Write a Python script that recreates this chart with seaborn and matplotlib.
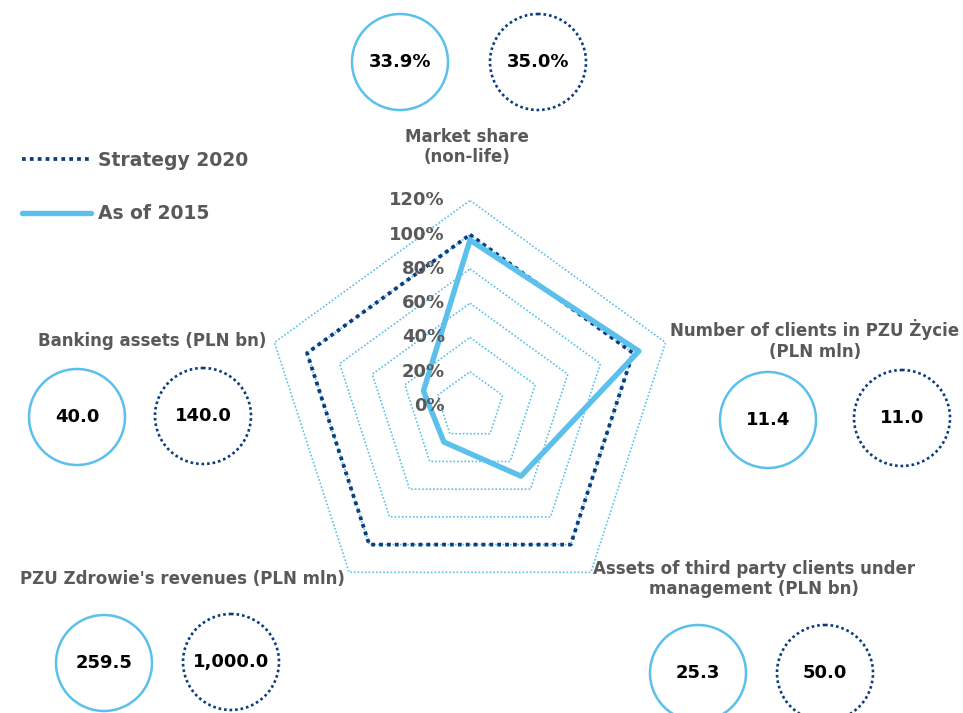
import numpy as np
import pandas as pd
import matplotlib
matplotlib.use("Agg")
import matplotlib.pyplot as plt
import matplotlib.transforms as mtransforms
from matplotlib.patches import Circle
from matplotlib.lines import Line2D
import seaborn as sns

# data
categories = ["Market share\n(non-life)",
              "Number of clients in PZU Życie\n(PLN mln)",
              "Assets of third party clients under\nmanagement (PLN bn)",
              "PZU Zdrowie's revenues (PLN mln)",
              "Banking assets (PLN bn)"]
values_2015 = [33.9, 11.4, 25.3, 259.5, 40.0]
values_2020 = [35.0, 11.0, 50.0, 1000.0, 140.0]
labels_2015 = ["33.9%", "11.4", "25.3", "259.5", "40.0"]
labels_2020 = ["35.0%", "11.0", "50.0", "1,000.0", "140.0"]
r_ticks = [0.0, 0.2, 0.4, 0.6, 0.8, 1.0, 1.2]
r_tick_labels = ["0%", "20%", "40%", "60%", "80%", "100%", "120%"]

# layout (pixels, origin top-left)
W, H = 963, 713
cx, cy, rad = 470, 406, 205.6
label_xy = [(467, 147), (815, 340), (754, 579), (182, 579), (152, 341)]
circ_2015_xy = [(400, 62), (768, 420), (698, 673), (104, 663), (77, 417)]
circ_2020_xy = [(538, 62), (902, 418), (825, 673), (231, 662), (203, 416)]

light = "#5BC0EB"
navy = "#0B3C7D"
grey = "#595959"

sns.set_theme(style="white")
plt.rcParams["font.family"] = ["DejaVu Sans"]

fig = plt.figure(figsize=(W / 100, H / 100), dpi=100)

ax = fig.add_axes([(cx - rad) / W, (H - cy - rad) / H, 2 * rad / W, 2 * rad / H],
                  projection="polar")
ax.set_theta_offset(np.pi / 2)
ax.set_theta_direction(-1)
ax.set_ylim(0, 1.2)
ax.grid(False)
ax.spines["polar"].set_visible(False)
ax.set_xticks([])
ax.set_yticks([])
ax.patch.set_alpha(0)

n = len(categories)
theta = np.linspace(0, 2 * np.pi, n, endpoint=False)
theta_c = np.append(theta, 2 * np.pi)

# pentagon grid
for r in r_ticks[1:]:
    ax.plot(theta_c, [r] * (n + 1), color=light, lw=1.2, dashes=(1, 1.2), zorder=1)

pct_2015 = np.array(values_2015) / np.array(values_2020)
pct_2020 = np.array(values_2020) / np.array(values_2020)
df = pd.DataFrame({
    "theta": np.concatenate([theta_c, theta_c]),
    "r": np.concatenate([np.append(pct_2020, pct_2020[0]), np.append(pct_2015, pct_2015[0])]),
    "series": ["Strategy 2020"] * (n + 1) + ["As of 2015"] * (n + 1),
})
s20 = df[df.series == "Strategy 2020"]
s15 = df[df.series == "As of 2015"]
sns.lineplot(data=s20, x="theta", y="r", sort=False, estimator=None, ax=ax,
             color=navy, lw=2.7, dashes=False, zorder=3)
ax.lines[-1].set_dashes((1, 1.1))
sns.lineplot(data=s15, x="theta", y="r", sort=False, estimator=None, ax=ax,
             color=light, lw=3.9, zorder=4)
ax.set_xlabel("")
ax.set_ylabel("")

# radial tick labels left of the vertical axis
off = mtransforms.offset_copy(ax.transData, fig=fig, x=-25, y=0, units="dots")
for r, t in zip(r_ticks, r_tick_labels):
    ax.text(0, r, t, transform=off, ha="right", va="center", fontsize=13,
            fontweight="bold", color=grey, zorder=5)

# overlay in pixel coordinates for labels and value circles
ov = fig.add_axes([0, 0, 1, 1], zorder=-1)
ov.set_xlim(0, W)
ov.set_ylim(H, 0)
ov.axis("off")

for (lx, ly), name in zip(label_xy, categories):
    ov.text(lx, ly, name, ha="center", va="center", fontsize=12, fontweight="bold",
            color=grey, linespacing=1.15)

for (x1, y1), (x2, y2), t1, t2 in zip(circ_2015_xy, circ_2020_xy, labels_2015, labels_2020):
    ov.add_patch(Circle((x1, y1), 48, fill=False, ec=light, lw=1.8))
    c = Circle((x2, y2), 48, fill=False, ec=navy, lw=1.9, ls=(0, (1, 1.1)))
    ov.add_patch(c)
    ov.text(x1, y1, t1, ha="center", va="center", fontsize=13, fontweight="bold", color="black")
    ov.text(x2, y2, t2, ha="center", va="center", fontsize=13, fontweight="bold", color="black")

handles = [Line2D([], [], color=navy, lw=2.7, dashes=(1, 1.1)),
           Line2D([], [], color=light, lw=3.9, solid_capstyle="round")]
leg = fig.legend(handles, ["Strategy 2020", "As of 2015"], loc="upper left",
                 bbox_to_anchor=(22 / W, 1 - 151 / H), frameon=False, fontsize=13.5,
                 handlelength=3.7, handletextpad=0.35, labelspacing=1.82,
                 borderpad=0, borderaxespad=0)
for t in leg.get_texts():
    t.set_color(grey)
    t.set_fontweight("bold")

fig.savefig("out.png", dpi=100)
